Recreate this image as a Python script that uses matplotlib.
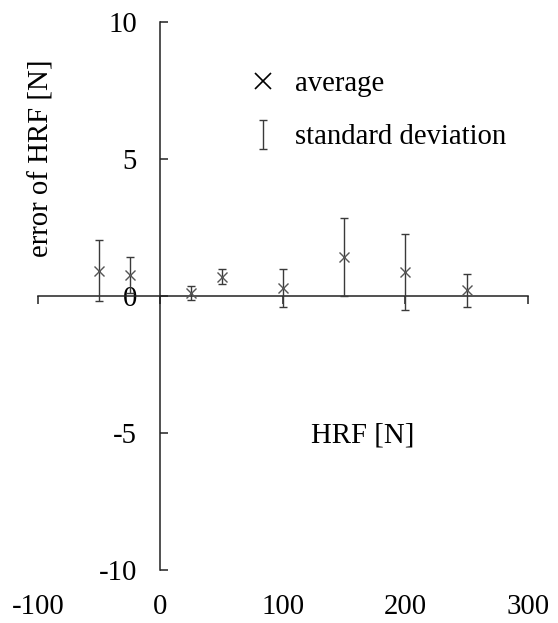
import matplotlib
matplotlib.use('Agg')
import matplotlib.pyplot as plt
from matplotlib.lines import Line2D

plt.rcParams['font.family'] = ['Liberation Serif', 'DejaVu Serif']
plt.rcParams['font.size'] = 20.7
plt.rcParams['axes.unicode_minus'] = False

# HRF load [N] and error statistics [N]
hrf = [-50, -25, 25, 50, 100, 150, 200, 250]
err_mean = [0.92, 0.77, 0.10, 0.70, 0.29, 1.42, 0.87, 0.20]
err_std = [1.12, 0.66, 0.26, 0.27, 0.68, 1.43, 1.38, 0.61]

x_ticks = [-100, 0, 100, 200, 300]
y_ticks = [-10, -5, 0, 5, 10]

fig = plt.figure(figsize=(5.58, 6.23), dpi=100)
ax = fig.add_axes([0.068, 0.085, 0.878, 0.880])

axis_col = '#222222'
eb = ax.errorbar(hrf, err_mean, yerr=err_std, fmt='none', ecolor='#3a3a3a',
                 elinewidth=1.0, capsize=3, capthick=1.0, zorder=3)
ax.plot(hrf, err_mean, ls='none', marker='x', ms=7.5, mew=1.0, color='#555555', zorder=4)

ax.set_xlim(-100, 300)
ax.set_ylim(-10, 10)

# axes cross at the origin
ax.spines['left'].set_position(('data', 0))
ax.spines['bottom'].set_position(('data', 0))
ax.spines['top'].set_visible(False)
ax.spines['right'].set_visible(False)
for s in ('left', 'bottom'):
    ax.spines[s].set_linewidth(1.1)
    ax.spines[s].set_color(axis_col)

ax.set_yticks(y_ticks)
ax.tick_params(axis='y', direction='in', length=6, width=1.1, color=axis_col, pad=17)
ax.set_xticks(x_ticks)
ax.tick_params(axis='x', direction='out', length=6, width=1.1, color=axis_col,
               labelbottom=False)

# x tick labels sit along the bottom of the frame
sec = ax.secondary_xaxis(0)
sec.set_xticks(x_ticks)
sec.tick_params(length=0, pad=17)
sec.spines['bottom'].set_visible(False)

ax.set_ylabel('error of HRF [N]', va='center')
ax.yaxis.set_label_coords(0.008, 0.752)
ax.set_xlabel('HRF [N]', va='center')
ax.xaxis.set_label_coords(0.663, 0.246)

mk = Line2D([], [], ls='none', marker='x', ms=12, mew=1.2, color='black')
ax.legend([mk, eb], ['average', 'standard deviation'], frameon=False,
          loc='upper left', bbox_to_anchor=(0.377, 0.958), handlelength=1.0,
          handletextpad=0.6, labelspacing=0.95)

fig.savefig('out.png', dpi=100)
